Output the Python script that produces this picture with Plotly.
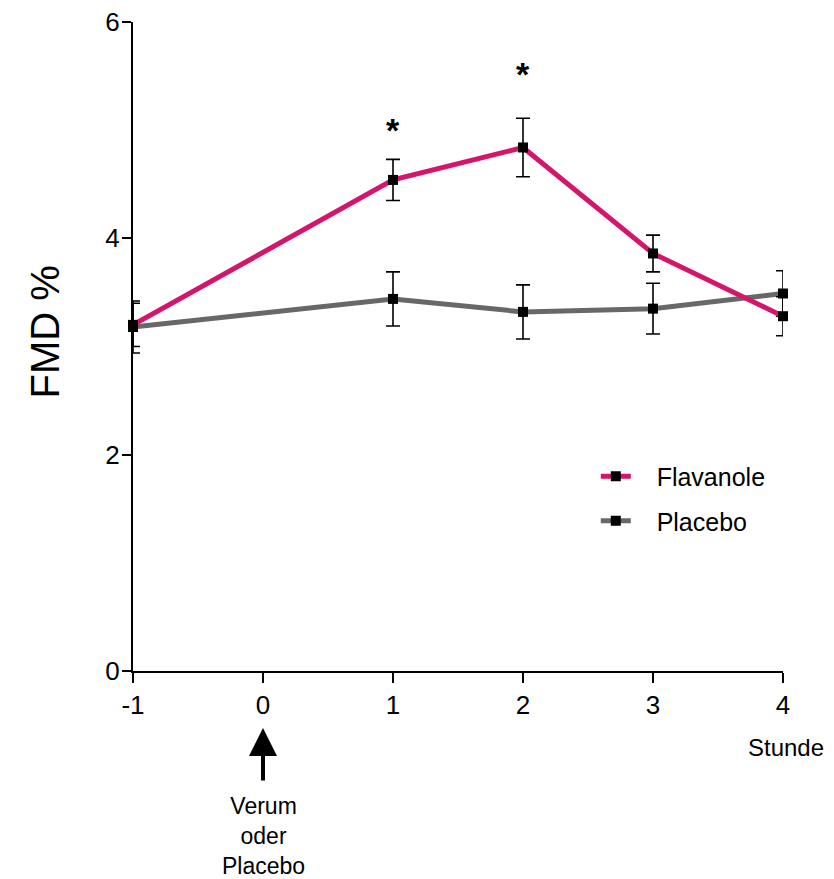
import plotly.graph_objects as go

hours = [-1, 1, 2, 3, 4]
flav = [3.20, 4.54, 4.84, 3.86, 3.28]
flav_err = [0.20, 0.19, 0.27, 0.17, 0.18]
plac = [3.18, 3.44, 3.32, 3.35, 3.49]
plac_err = [0.24, 0.25, 0.25, 0.235, 0.21]
star_x = [1, 2]
star_y = [5.00, 5.52]
x_ticks = [-1, 0, 1, 2, 3, 4]
y_ticks = [0, 2, 4, 6]

FONT = "Liberation Sans, Arial, sans-serif"
PINK = "#D5156B"
GRAY = "#686868"
NB = "\u00a0\u00a0\u00a0"

fig = go.Figure()
fig.add_trace(go.Scatter(
    x=hours, y=plac, name=NB + "Placebo", mode="lines+markers",
    legendgroup="p", legendrank=2,
    line=dict(color=GRAY, width=5),
    marker=dict(symbol="square", size=10, color="black"),
    error_y=dict(type="data", array=plac_err, color="black", thickness=1.6, width=7),
    cliponaxis=False,
))
fig.add_trace(go.Scatter(
    x=hours, y=flav, name=NB + "Flavanole", mode="lines+markers",
    legendgroup="f", legendrank=1,
    line=dict(color=PINK, width=5),
    marker=dict(symbol="square", size=10, color="black"),
    error_y=dict(type="data", array=flav_err, color="black", thickness=1.6, width=7),
    cliponaxis=False,
))

for sx, sy in zip(star_x, star_y):
    fig.add_annotation(x=sx, y=sy, text="<b>*</b>", showarrow=False,
                       font=dict(size=34, color="black", family=FONT))

# arrow at x=0
fig.add_annotation(x=0, xref="x", y=-0.088, yref="paper", text="",
                   showarrow=True, ax=0, ay=54, arrowhead=2, arrowsize=1.4,
                   arrowwidth=4, arrowcolor="black")
fig.add_annotation(x=0, xref="x", y=-0.255, yref="paper", yanchor="middle",
                   xanchor="center", text="Verum<br>oder<br>Placebo", showarrow=False,
                   font=dict(size=23, color="black", family=FONT))
fig.add_annotation(x=1.0046, xref="paper", y=-0.118, yref="paper", yanchor="middle",
                   xanchor="center", text="Stunde", showarrow=False,
                   font=dict(size=24, color="black", family=FONT))
fig.add_annotation(x=-0.135, xref="paper", y=0.522, yref="paper", textangle=-90,
                   xanchor="center", yanchor="middle",
                   text="FMD %", showarrow=False,
                   font=dict(size=40, color="black", family=FONT))

fig.update_layout(
    width=826, height=871,
    margin=dict(l=125, r=51, t=14, b=208, autoexpand=False),
    paper_bgcolor="white", plot_bgcolor="white",
    font=dict(family=FONT, color="black", size=22),
    legend=dict(x=0.712, y=0.335, xanchor="left", yanchor="top",
                traceorder="grouped", font=dict(size=25, family=FONT),
                bgcolor="rgba(0,0,0,0)", tracegroupgap=9),
    showlegend=True,
)
fig.update_xaxes(range=[-1, 4], tickvals=x_ticks, ticktext=[str(v) for v in x_ticks],
                 showgrid=False, zeroline=False, showline=True, linecolor="black",
                 linewidth=2, ticks="outside", ticklen=10, tickwidth=2, tickcolor="black",
                 tickfont=dict(size=26), ticklabeloverflow="allow", automargin=False)
fig.update_yaxes(range=[0, 6], tickvals=y_ticks, showgrid=False, zeroline=False,
                 showline=True, linecolor="black", linewidth=2, ticks="outside",
                 ticklen=9, tickwidth=2, tickcolor="black", tickfont=dict(size=26),
                 ticklabeloverflow="allow", ticklabelstandoff=-3, automargin=False)

fig.write_html("out.html")
